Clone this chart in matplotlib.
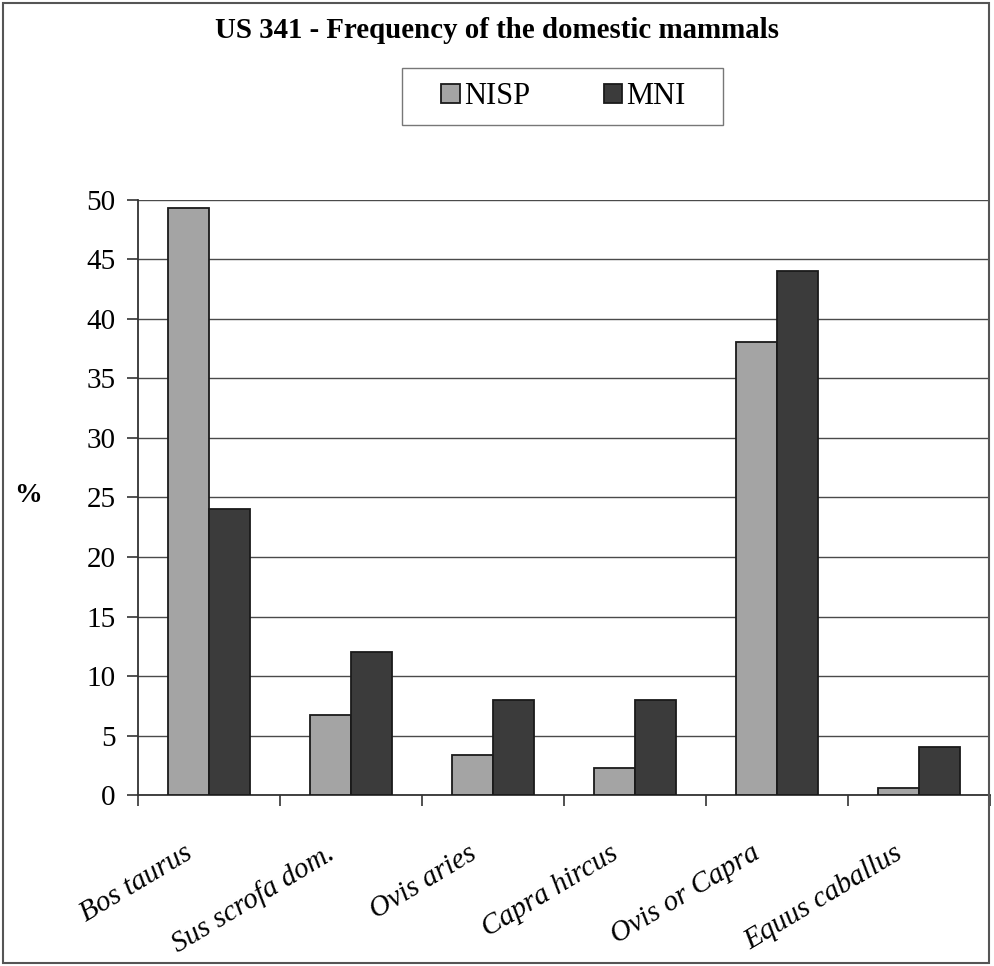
import matplotlib.pyplot as plt
import numpy as np
from matplotlib.patches import Rectangle

plt.rcParams['font.family'] = ['Liberation Serif', 'DejaVu Serif']

taxa = ["Bos taurus", "Sus scrofa dom.", "Ovis aries", "Capra hircus",
        "Ovis or Capra", "Equus caballus"]
nisp = [49.3, 6.7, 3.4, 2.3, 38.1, 0.6]
mni = [24, 12, 8, 8, 44, 4]

fig = plt.figure(figsize=(9.94, 9.66), dpi=100)
ax = fig.add_axes([0.1388, 0.177, 0.857, 0.616])

x = np.arange(len(taxa))
w = 0.29
ax.bar(x - w / 2, nisp, w, color="#a4a4a4", edgecolor="#1a1a1a", linewidth=1.3,
       label="NISP", zorder=3)
ax.bar(x + w / 2, mni, w, color="#3b3b3b", edgecolor="#1a1a1a", linewidth=1.3,
       label="MNI", zorder=3)

ax.set_xlim(-0.5, len(taxa) - 0.5)
ax.set_ylim(0, 50)
ax.set_yticks(range(0, 51, 5))
ax.yaxis.grid(True, color="#4a4a4a", linewidth=1.0, zorder=0)
ax.set_axisbelow(True)
for s in ["top", "right"]:
    ax.spines[s].set_visible(False)
for s in ["left", "bottom"]:
    ax.spines[s].set_color("#333333")
    ax.spines[s].set_linewidth(1.3)

# category ticks sit between the groups
ax.set_xticks(np.arange(-0.5, len(taxa) + 0.5, 1))
ax.set_xticklabels([])
ax.tick_params(axis="x", direction="out", length=8, width=1.2, color="#333333")
ax.tick_params(axis="y", direction="out", length=8, width=1.2, color="#333333",
               labelsize=21, pad=8)

for i, t in enumerate(taxa):
    ax.text(i - 0.18, -3.8, t, rotation=31, rotation_mode="anchor",
            ha="right", va="top", fontsize=21, style="italic",
            transform=ax.transData, clip_on=False)

fig.text(0.014, 0.487, "%", fontsize=20, fontweight="bold", ha="left", va="center")
fig.text(0.500, 0.968, "US 341 - Frequency of the domestic mammals",
         fontsize=20.8, fontweight="bold", ha="center", va="center")

leg = fig.legend(loc="center", bbox_to_anchor=(0.567, 0.900), ncol=2,
                 fontsize=22, frameon=False, handlelength=0.6,
                 handleheight=0.6, handletextpad=0.15, columnspacing=2.4,
                 borderpad=0.45, borderaxespad=0)
# wider box drawn around the legend entries
fig.patches.append(Rectangle((0.4044, 0.8706), 0.323, 0.059, transform=fig.transFigure,
                             fill=False, edgecolor="#777777", linewidth=1.0))

# outer border around the chart
fig.patches.append(Rectangle((0.003, 0.003), 0.992, 0.994, transform=fig.transFigure,
                             fill=False, edgecolor="#555555", linewidth=1.5))

fig.savefig("out.png", dpi=100)
